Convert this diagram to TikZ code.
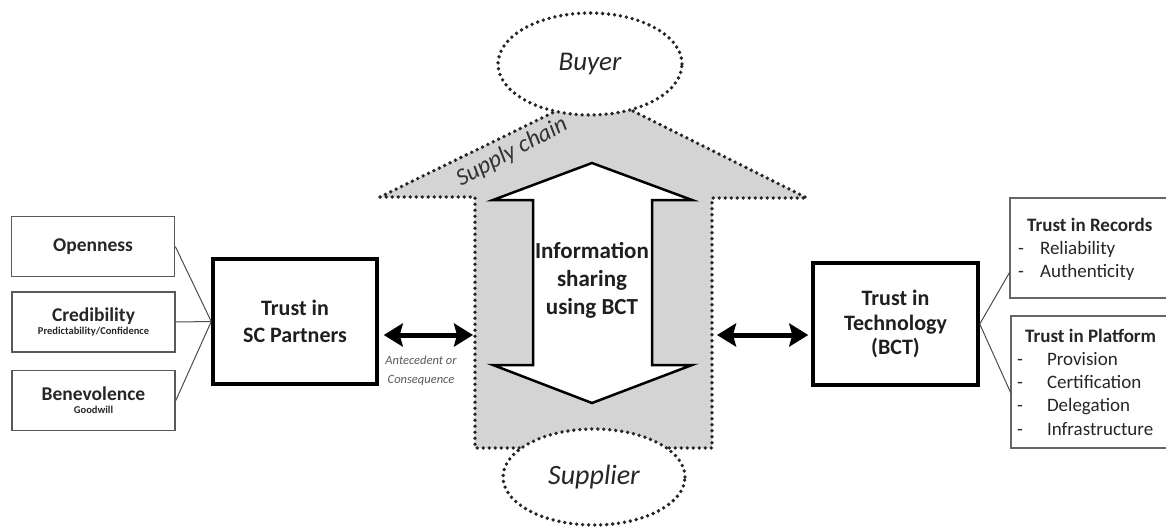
\documentclass[tikz,border=0pt]{standalone}
\usepackage{fontspec}
\setmainfont{Carlito}
\usetikzlibrary{arrows.meta,shapes.geometric}
\begin{document}
\begin{tikzpicture}[x=1pt,y=-1pt,
  smallbox/.style={draw=black!65, line width=1.6pt, minimum width=163pt, minimum height=60pt, inner sep=0pt, align=center, text=black!85},
  bigbox/.style={draw=black, line width=3.5pt, inner sep=0pt, align=center, text=black!88},
  dotline/.style={draw=black!85, line width=3.8pt, line cap=round, dash pattern=on 0pt off 6pt},
  dbl/.style={line width=5pt, {Stealth[length=19pt,width=23pt,inset=3pt]}-{Stealth[length=19pt,width=23pt,inset=3pt]}},
  thinline/.style={draw=black!70, line width=1pt},
  rbox/.style={draw=black!60, line width=1.6pt},
  hd/.style={font=\fontsize{19.5}{22}\selectfont\bfseries},
]
\useasboundingbox (0,0) rectangle (1166,528);

% central supply-chain shape
\draw[dotline, fill=black!17] (380,197) -- (595,92) -- (807,198) -- (712,198) -- (712,448) -- (475,448) -- (475,197) -- cycle;
\coordinate (gl) at (475,335);
\coordinate (gr) at (712,335);

% buyer / supplier
\node[ellipse, dotline, fill=white, minimum width=184pt, minimum height=102pt, inner sep=0pt,
      font=\fontsize{27}{30}\selectfont\itshape, text=black!85] (buyer) at (590,64) {Buyer};
\node[ellipse, dotline, fill=white, minimum width=182pt, minimum height=96pt, inner sep=0pt,
      font=\fontsize{28}{30}\selectfont\itshape, text=black!85] (supplier) at (594,477) {Supplier};

\node[rotate=28, font=\fontsize{24}{28}\selectfont\itshape, text=black!80, inner sep=0pt] (sclabel) at (512,152) {Supply chain};

% white double arrow
\draw[line width=2.5pt, fill=white] (592,163) -- (692,200) -- (652,200) -- (652,365) -- (692,365) -- (592,403) -- (493,365) -- (533,365) -- (533,200) -- (493,200) -- cycle;
\node[align=center, inner sep=0pt, font=\fontsize{23}{28}\selectfont\bfseries, text=black!88] (info) at (592,280) {Information\\sharing\\using BCT};

% left small boxes
\node[smallbox, hd] (open) at (93,246.5) {Openness};
\node[smallbox] (cred) at (93.5,322) {{\fontsize{19.5}{22}\selectfont\bfseries Credibility}\\[1pt]{\fontsize{10.5}{11}\selectfont\bfseries Predictability/Confidence}};
\node[smallbox] (bene) at (93.5,400.5) {{\fontsize{19.5}{22}\selectfont\bfseries Benevolence}\\[1pt]{\fontsize{10.5}{11}\selectfont\bfseries Goodwill}};

% main boxes
\node[bigbox, minimum width=164pt, minimum height=125pt, font=\fontsize{22}{27}\selectfont\bfseries] (sc) at (295,321.5) {Trust in\\SC Partners};
\node[bigbox, minimum width=165pt, minimum height=122pt, font=\fontsize{22}{24.5}\selectfont\bfseries] (tech) at (895.5,324) {Trust in\\Technology\\(BCT)};

% connectors left
\draw[thinline] (open.east) -- (sc.west);
\draw[thinline] (cred.east) -- (sc.west);
\draw[thinline] (bene.east) -- (sc.west);

% double arrows
\draw[dbl] ([shift={(5,13.5)}]sc.east) -- ([xshift=-2pt]gl);
\draw[dbl] ([xshift=5pt]gr) -- ([shift={(-3,11)}]tech.west);

\node[align=center, inner sep=0pt, font=\fontsize{12.5}{19}\selectfont\itshape, text=black!65] (ante) at (421,371) {Antecedent or\\Consequence};

% right boxes (open to the right edge)
\node[minimum width=170pt, minimum height=100pt, inner sep=0pt] (rec) at (1095,248) {};
\draw[rbox] (rec.north east) -- (rec.north west) -- (rec.south west) -- (rec.south east);
\node[minimum width=170pt, minimum height=132pt, inner sep=0pt] (plat) at (1096,382) {};
\draw[rbox] (plat.north east) -- (plat.north west) -- (plat.south west) -- (plat.south east);

\node[anchor=base west, inner sep=0pt, font=\fontsize{19}{23.3}\selectfont, text=black!85] (rect) at (1018,231)
  {\begin{tabular}[t]{@{}l@{\hspace{16pt}}l@{}}\multicolumn{2}{@{\hspace{9pt}}l@{}}{\bfseries Trust in Records}\\ - & Reliability\\ - & Authenticity\end{tabular}};
\node[anchor=base west, inner sep=0pt, font=\fontsize{19}{23.3}\selectfont, text=black!85] (platt) at (1017,342)
  {\begin{tabular}[t]{@{}l@{\hspace{24pt}}l@{}}\multicolumn{2}{@{\hspace{8pt}}l@{}}{\bfseries Trust in Platform}\\ - & Provision\\ - & Certification\\ - & Delegation\\ - & Infrastructure\end{tabular}};

% connectors right
\draw[thinline] (tech.east) -- ([yshift=-24pt]rec.west);
\draw[thinline] (tech.east) -- ([yshift=-11pt]plat.west);
\end{tikzpicture}
\end{document}
